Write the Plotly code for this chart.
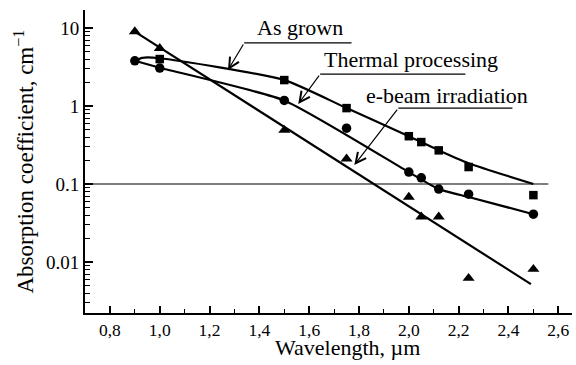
import plotly.graph_objects as go
import numpy as np

# ---- data ----
x_as_grown = [1.0, 1.5, 1.75, 2.0, 2.05, 2.12, 2.24, 2.5]
y_as_grown = [4.0, 2.15, 0.94, 0.41, 0.345, 0.27, 0.165, 0.072]

x_thermal = [0.9, 1.0, 1.5, 1.75, 2.0, 2.05, 2.12, 2.24, 2.5]
y_thermal = [3.8, 3.07, 1.18, 0.52, 0.142, 0.12, 0.086, 0.074, 0.041]

x_ebeam = [0.9, 1.0, 1.5, 1.75, 2.0, 2.05, 2.12, 2.24, 2.5]
y_ebeam = [9.0, 5.5, 0.49, 0.21, 0.068, 0.038, 0.038, 0.0062, 0.0081]

# fitted curves as drawn in the picture
fit_as_grown_x = [0.9, 0.93, 1.0, 1.5, 1.75, 2.0, 2.11, 2.24, 2.5]
fit_as_grown_y = [3.8, 4.15, 4.1, 2.15, 0.94, 0.41, 0.28, 0.185, 0.1]

fit_thermal_x = [0.9, 1.0, 1.5, 2.0, 2.12, 2.24, 2.5]
fit_thermal_y = [3.8, 3.1, 1.18, 0.142, 0.086, 0.068, 0.041]

fit_ebeam_x = [0.9, 2.49]
fit_ebeam_y = [9.0, 0.0052]

threshold = 0.1
threshold_x = [0.7, 2.56]

x_ticks = [0.8, 1.0, 1.2, 1.4, 1.6, 1.8, 2.0, 2.2, 2.4, 2.6]
x_ticktext = ["0,8", "1,0", "1,2", "1,4", "1,6", "1,8", "2,0", "2,2", "2,4", "2,6"]
y_ticks = [0.01, 0.1, 1, 10]
y_ticktext = ["0.01", "0.1", "1", "10"]

labels = ["As grown", "Thermal processing", "e-beam irradiation"]
# label text centre, underline (start x, end x, y), arrow tip (x, y)
label_pos = [(1.565, 10.3), (2.01, 3.9), (2.155, 1.38)]
underline = [(1.339, 1.77, 6.43), (1.644, 2.227, 2.57), (1.958, 2.416, 0.94)]
arrow_tip = [(1.274, 2.89), (1.556, 1.06), (1.781, 0.175)]

FONT = "Liberation Serif"
fig = go.Figure()

# threshold line
fig.add_trace(go.Scatter(x=threshold_x, y=[threshold, threshold], mode="lines",
                         line=dict(color="#555555", width=1.5), hoverinfo="skip"))

lw = 2.2
fig.add_trace(go.Scatter(x=fit_as_grown_x, y=fit_as_grown_y, mode="lines",
                         line=dict(color="black", width=lw, shape="spline", smoothing=0.6)))
fig.add_trace(go.Scatter(x=fit_thermal_x, y=fit_thermal_y, mode="lines",
                         line=dict(color="black", width=lw, shape="spline", smoothing=0.5)))
fig.add_trace(go.Scatter(x=fit_ebeam_x, y=fit_ebeam_y, mode="lines",
                         line=dict(color="black", width=lw)))

fig.add_trace(go.Scatter(x=x_as_grown, y=y_as_grown, mode="markers",
                         marker=dict(symbol="square", size=8.5, color="black")))
fig.add_trace(go.Scatter(x=x_thermal, y=y_thermal, mode="markers",
                         marker=dict(symbol="circle", size=9.5, color="black")))
fig.add_trace(go.Scatter(x=x_ebeam, y=y_ebeam, mode="markers",
                         marker=dict(symbol="triangle-up", size=10.5, color="black")))

# underlines of labels
for (x0, x1, yy) in underline:
    fig.add_trace(go.Scatter(x=[x0, x1], y=[yy, yy], mode="lines",
                             line=dict(color="black", width=1.2), hoverinfo="skip"))

annotations = []
for txt, (tx, ty), (x0, x1, yy), (ax_, ay_) in zip(labels, label_pos, underline, arrow_tip):
    annotations.append(dict(x=tx, y=np.log10(ty), xref="x", yref="y", text=txt,
                            showarrow=False, font=dict(family=FONT, size=22, color="black")))
    annotations.append(dict(x=ax_, y=np.log10(ay_), xref="x", yref="y",
                            ax=x0, ay=np.log10(yy), axref="x", ayref="y", text="",
                            showarrow=True, arrowhead=5, arrowsize=1.7, arrowwidth=1.2,
                            arrowcolor="black", standoff=0, startstandoff=0))

annotations.append(dict(x=0, y=0.5, xref="paper", yref="paper", xshift=-61,
                        text="Absorption coefficient, cm<sup>−1</sup>", textangle=-90,
                        showarrow=False, xanchor="center", yanchor="middle",
                        font=dict(family=FONT, size=23, color="black")))
annotations.append(dict(x=1.753, y=0, xref="x", yref="paper", yshift=-20,
                        text="Wavelength, µm", showarrow=False,
                        xanchor="center", yanchor="top",
                        font=dict(family=FONT, size=22, color="black")))

minor_y = [k * 10.0 ** e for e in range(-3, 2) for k in range(2, 10)]

fig.update_layout(
    width=576, height=365,
    margin=dict(l=85, r=4, t=10, b=52, autoexpand=False),
    paper_bgcolor="white", plot_bgcolor="white",
    showlegend=False,
    annotations=annotations,
    font=dict(family=FONT, color="black"),
    xaxis=dict(range=[0.7, 2.655], tickmode="array", tickvals=x_ticks, ticktext=x_ticktext,
               automargin=False,
               ticks="inside", ticklen=7, tickwidth=1.5, tickcolor="black",
               showline=True, linecolor="black", linewidth=2, showgrid=False, zeroline=False,
               tickfont=dict(family=FONT, size=17.5, color="black"),
               minor=dict(tickmode="array", tickvals=[0.7, 0.9, 1.1, 1.3, 1.5, 1.7, 1.9, 2.1, 2.3, 2.5],
                          ticks="inside", ticklen=4, tickwidth=1.3, tickcolor="black")),
    yaxis=dict(type="log", range=[-2.654, 1.231], tickmode="array", tickvals=y_ticks,
               ticktext=y_ticktext, automargin=False,
               ticks="inside", ticklen=8, tickwidth=1.5, tickcolor="black",
               showline=True, linecolor="black", linewidth=2, showgrid=False, zeroline=False,
               tickfont=dict(family=FONT, size=19, color="black"),
               minor=dict(tickmode="array", tickvals=minor_y,
                          ticks="inside", ticklen=5, tickwidth=1.2, tickcolor="black")),
)

fig.write_html("out.html", config={"displayModeBar": False},
               post_script="document.body.style.margin='0';document.body.style.overflow='hidden';")
